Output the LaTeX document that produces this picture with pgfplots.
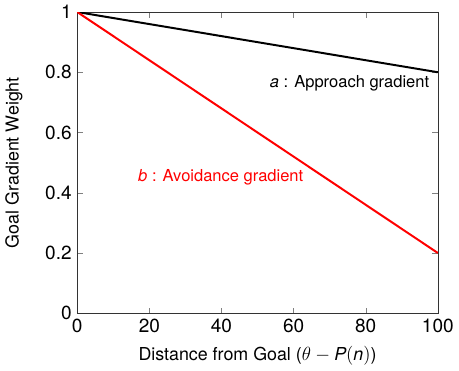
\documentclass[border=0pt,12pt]{standalone}
\usepackage{pgfplots}
\pgfplotsset{compat=1.18}
\usepackage{fontspec}
\setmainfont{TeX Gyre Heros}
\begin{document}
\begin{tikzpicture}
\begin{axis}[
  scale only axis,
  width=273pt, height=228pt,
  xmin=0, xmax=100, ymin=0, ymax=1,
  xtick={0,20,40,60,80,100},
  ytick={0,0.2,0.4,0.6,0.8,1},
  /pgf/number format/assume math mode=true,
  tick style={gray},
  axis line style={black!80},
  xlabel={Distance from Goal ($\theta - \textit{P}(\textit{n})$)},
  ylabel={Goal Gradient Weight},
  label style={font=\fontsize{13.5}{16}\selectfont},
  ylabel style={yshift=9pt},
  xlabel style={yshift=-2pt},
  every tick label/.append style={font=\large},
]
\addplot[black, line width=1.5pt] coordinates {(0,1) (100,0.8)};
\addplot[red, line width=1.5pt] coordinates {(0,1) (100,0.2)};
\node[black,font=\fontsize{12.5}{15}\selectfont] at (axis cs:75.5,0.762) {\textit{a} : Approach gradient};
\node[red,font=\fontsize{12.5}{15}\selectfont] at (axis cs:39.8,0.452) {\textit{b} : Avoidance gradient};
\end{axis}
\end{tikzpicture}
\end{document}
